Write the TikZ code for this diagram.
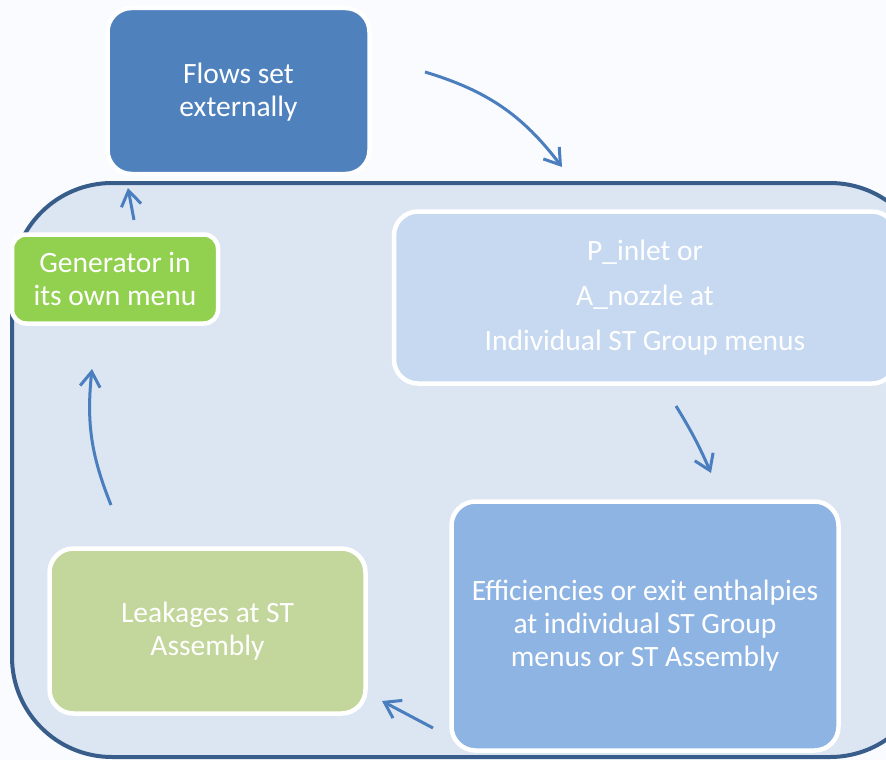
\documentclass[tikz,border=0pt]{standalone}
\usepackage{fontspec}
\setmainfont{Carlito}
\usetikzlibrary{arrows.meta}
\definecolor{pagebg}{HTML}{F9FBFE}
\definecolor{panelfill}{HTML}{DCE6F2}
\definecolor{paneledge}{HTML}{385D8A}
\definecolor{flowblue}{HTML}{4F81BD}
\definecolor{gengreen}{HTML}{92D050}
\definecolor{inletblue}{HTML}{C6D9F1}
\definecolor{effblue}{HTML}{8EB4E3}
\definecolor{leakgreen}{HTML}{C3D69B}
\definecolor{arrowblue}{HTML}{4A7EBF}
\tikzset{
  card/.style={draw=white, line width=4.5pt, rounded corners=24pt,
    text=white, align=center, font=\fontsize{29.5}{33}\selectfont, inner sep=0pt},
  flowarrow/.style={draw=arrowblue, line width=3pt,
    -{Straight Barb[length=15pt,width=20pt,line width=3pt]}},
}
\begin{document}
\begin{tikzpicture}[x=1pt,y=-1pt]
  % page
  \fill[pagebg] (0,0) rectangle (886,760);
  \useasboundingbox (0,0) rectangle (886,760);
  \begin{scope}
    \clip (0,0) rectangle (886,760);
    % enclosing panel
    \draw[fill=panelfill, draw=paneledge, line width=4pt, rounded corners=100pt]
      (12,183) rectangle (930,757);
    % cards (text sits slightly below the geometric centre)
    \node[card, fill=flowblue, minimum width=262pt, minimum height=166pt,
      text depth=2pt]
      (flows) at (238.5,91) {Flows set\\externally};
    \node[card, fill=gengreen, minimum width=206pt, minimum height=89pt,
      rounded corners=14pt]
      (gen) at (115,279) {Generator in\\its own menu};
    \node[card, fill=inletblue, minimum width=502pt, minimum height=172pt,
      font=\fontsize{29.5}{45}\selectfont]
      (inlet) at (645,297.5) {P\_inlet or\\A\_nozzle at\\Individual ST Group menus};
    \node[card, fill=effblue, minimum width=387pt, minimum height=249pt]
      (eff) at (645,626) {Efficiencies or exit enthalpies\\at individual ST Group\\menus or ST Assembly};
    \node[card, fill=leakgreen, minimum width=316pt, minimum height=165pt]
      (leak) at (207.5,631) {Leakages at ST\\Assembly};
  \end{scope}
  % arrow end points
  \coordinate (a1s) at (425,72);   \coordinate (a1e) at (562,167);
  \coordinate (a2s) at (676,406);  \coordinate (a2e) at (711,473);
  \coordinate (a3s) at (433,728);  \coordinate (a3e) at (382,701);
  \coordinate (a4s) at (111,505);  \coordinate (a4e) at (92,369);
  \coordinate (a5s) at (134,220);  \coordinate (a5e) at (128,188);
  % cycle arrows
  \draw[flowarrow] (a1s) to[bend left=18] (a1e);
  \draw[flowarrow] (a2s) to[bend left=4] (a2e);
  \draw[flowarrow] (a3s) -- (a3e);
  \draw[flowarrow] (a4s) to[bend left=14] (a4e);
  \draw[flowarrow] (a5s) -- (a5e);
\end{tikzpicture}
\end{document}
